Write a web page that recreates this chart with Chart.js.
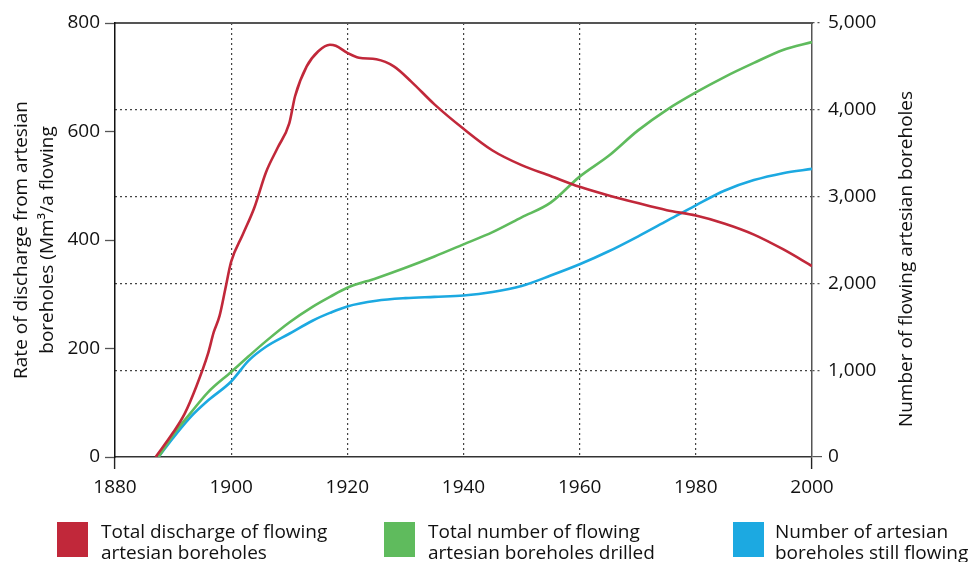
<!DOCTYPE html>
<html>
<head>
<meta charset="utf-8">
<script src="https://cdn.jsdelivr.net/npm/chart.js@4.4.1/dist/chart.umd.min.js"></script>
<style>
    html, body { margin: 0; padding: 0; background: #fff; }
    #wrap { position: relative; width: 975px; height: 562px; font-family: 'Open Sans', sans-serif; color: #111; }
    #chart { position: absolute; left: 0; top: 0; }
    .key { position: absolute; top: 522px; }
    .key .sw { position: absolute; left: 0; top: 0; width: 31px; height: 35px; }
    .key .txt { position: absolute; top: -1px; white-space: nowrap; font-size: 19px; line-height: 21px; }
</style>
</head>
<body>
<div id="wrap">
    <canvas id="chart" width="975" height="562"></canvas>
    <div id="legend"></div>
</div>
<script>
// ------------------------------------------------------------
// data
// ------------------------------------------------------------
const dischargeYears = [1887, 1890, 1892, 1894, 1896, 1897, 1898, 1899, 1900, 1902, 1904, 1906, 1908, 1910, 1911, 1913, 1915, 1917, 1918, 1920, 1922, 1925, 1928, 1931, 1935, 1940, 1945, 1950, 1955, 1960, 1965, 1970, 1975, 1980, 1985, 1990, 1995, 2000];
const dischargeValues = [0, 45, 80, 130, 190, 230, 260, 310, 360, 410, 460, 525, 570, 615, 665, 720, 748, 760, 758, 745, 736, 733, 720, 692, 650, 605, 565, 538, 518, 498, 482, 468, 455, 445, 430, 410, 383, 352];

const boreholeYears = [1887.5, 1890, 1893, 1896, 1900, 1903, 1906, 1910, 1914, 1917, 1920, 1925, 1930, 1935, 1940, 1945, 1950, 1955, 1960, 1965, 1970, 1975, 1980, 1985, 1990, 1995, 2000];
const drilledValues = [0, 255, 505, 745, 980, 1160, 1335, 1550, 1730, 1845, 1950, 2060, 2180, 2310, 2450, 2590, 2760, 2930, 3230, 3470, 3760, 4000, 4200, 4380, 4540, 4690, 4780];
const flowingValues = [0, 220, 460, 650, 870, 1110, 1270, 1420, 1570, 1660, 1735, 1800, 1830, 1845, 1860, 1900, 1970, 2090, 2220, 2370, 2540, 2720, 2900, 3070, 3190, 3270, 3320];

const yearTicks = [1880, 1900, 1920, 1940, 1960, 1980, 2000];
const dischargeTicks = [0, 200, 400, 600, 800];
const boreholeTicks = [0, 1000, 2000, 3000, 4000, 5000];

const seriesLabels = [
    ['Total discharge of flowing', 'artesian boreholes'],
    ['Total number of flowing', 'artesian boreholes drilled'],
    ['Number of artesian', 'boreholes still flowing']
];
const leftTitle = ['Rate of discharge from artesian', 'boreholes (Mm\u00b3/a flowing'];
const rightTitle = 'Number of flowing artesian boreholes';

// ------------------------------------------------------------
const colors = ['#c1283a', '#5fbb5d', '#1ca9e1'];
const font = 'Open Sans';

function toPoints(xs, ys) {
    return xs.map((x, i) => ({ x: x, y: ys[i] }));
}

const rightTitlePlugin = {
    id: 'rightTitle',
    afterDraw(chart) {
        const ctx = chart.ctx;
        const area = chart.chartArea;
        ctx.save();
        ctx.translate(chart.scales.y1.right - 68, (area.top + area.bottom) / 2 + 19);
        ctx.rotate(-Math.PI / 2);
        ctx.font = '19px "' + font + '"';
        ctx.fillStyle = '#111';
        ctx.textAlign = 'center';
        ctx.textBaseline = 'middle';
        ctx.fillText(rightTitle, 0, 0);
        ctx.restore();
    }
};

const isEnd = v => v === yearTicks[0] || v === yearTicks[yearTicks.length - 1];
const isEdge = v => v === boreholeTicks[0] || v === boreholeTicks[boreholeTicks.length - 1];

const chart = new Chart(document.getElementById('chart').getContext('2d'), {
    type: 'line',
    data: {
        datasets: [
            { label: seriesLabels[0].join(' '), data: toPoints(dischargeYears, dischargeValues), borderColor: colors[0], backgroundColor: colors[0], yAxisID: 'y' },
            { label: seriesLabels[1].join(' '), data: toPoints(boreholeYears, drilledValues), borderColor: colors[1], backgroundColor: colors[1], yAxisID: 'y1' },
            { label: seriesLabels[2].join(' '), data: toPoints(boreholeYears, flowingValues), borderColor: colors[2], backgroundColor: colors[2], yAxisID: 'y1' }
        ]
    },
    options: {
        responsive: false,
        animation: false,
        layout: { padding: { top: 23, left: 0, right: 0, bottom: 0 } },
        elements: {
            point: { radius: 0 },
            line: { borderWidth: 2.6, cubicInterpolationMode: 'monotone' }
        },
        plugins: { legend: { display: false }, tooltip: { enabled: false } },
        scales: {
            x: {
                type: 'linear',
                position: 'bottom',
                min: yearTicks[0],
                max: yearTicks[yearTicks.length - 1],
                afterBuildTicks: s => { s.ticks = yearTicks.map(v => ({ value: v })); },
                afterFit: s => { s.height = 105; },
                ticks: { color: '#111', font: { family: font, size: 19 }, padding: 7, maxRotation: 0, callback: v => String(v) },
                grid: {
                    color: c => isEnd(c.tick.value) ? 'rgba(0,0,0,0)' : '#444',
                    lineWidth: 1.2,
                    tickLength: 12,
                    tickWidth: 1.4,
                    tickColor: c => isEnd(c.tick.value) ? '#222' : 'rgba(0,0,0,0)'
                },
                border: { color: '#333', width: 1.5, dash: [2, 3] }
            },
            x2: {
                type: 'linear',
                position: 'top',
                min: yearTicks[0],
                max: yearTicks[yearTicks.length - 1],
                afterFit: s => { s.height = 0; },
                ticks: { display: false },
                grid: { display: false },
                border: { color: '#555', width: 2 }
            },
            y: {
                position: 'left',
                min: dischargeTicks[0],
                max: dischargeTicks[dischargeTicks.length - 1],
                afterBuildTicks: s => { s.ticks = dischargeTicks.map(v => ({ value: v })); },
                afterFit: s => { s.width = 115; },
                ticks: { color: '#111', font: { family: font, size: 19 }, padding: 5 },
                grid: { drawOnChartArea: false, tickLength: 10, tickColor: '#555', tickWidth: 1.3 },
                border: { color: '#111', width: 1.5 },
                title: {
                    display: true,
                    text: leftTitle,
                    color: '#111',
                    font: { family: font, size: 19, lineHeight: 1.37 },
                    padding: { top: 9, bottom: 0 }
                }
            },
            y1: {
                position: 'right',
                min: boreholeTicks[0],
                max: boreholeTicks[boreholeTicks.length - 1],
                afterBuildTicks: s => { s.ticks = boreholeTicks.map(v => ({ value: v })); },
                afterFit: s => { s.width = 163; },
                ticks: { color: '#111', font: { family: font, size: 19 }, padding: 6, callback: v => v.toLocaleString('en-US') },
                grid: {
                    color: c => isEdge(c.tick.value) ? 'rgba(0,0,0,0)' : '#444',
                    lineWidth: 1.2,
                    tickLength: 10,
                    tickWidth: 1.2,
                    tickColor: '#555',
                    tickBorderDash: c => c.tick.value === 0 ? [] : [2, 3]
                },
                border: { color: '#555', width: 1.5, dash: [2, 3] }
            }
        }
    },
    plugins: [rightTitlePlugin]
});

// legend below the plot, two lines per entry
const legendPos = [{ sw: 57, txt: 101 }, { sw: 384, txt: 428 }, { sw: 733, txt: 775 }];
const legendEl = document.getElementById('legend');
chart.data.datasets.forEach((ds, i) => {
    const item = document.createElement('div');
    item.className = 'key';
    item.style.left = legendPos[i].sw + 'px';
    item.innerHTML = '<span class="sw" style="background:' + ds.borderColor + '"></span>' +
        '<span class="txt" style="left:' + (legendPos[i].txt - legendPos[i].sw) + 'px">' + seriesLabels[i].join('<br>') + '</span>';
    legendEl.appendChild(item);
});
</script>
</body>
</html>
